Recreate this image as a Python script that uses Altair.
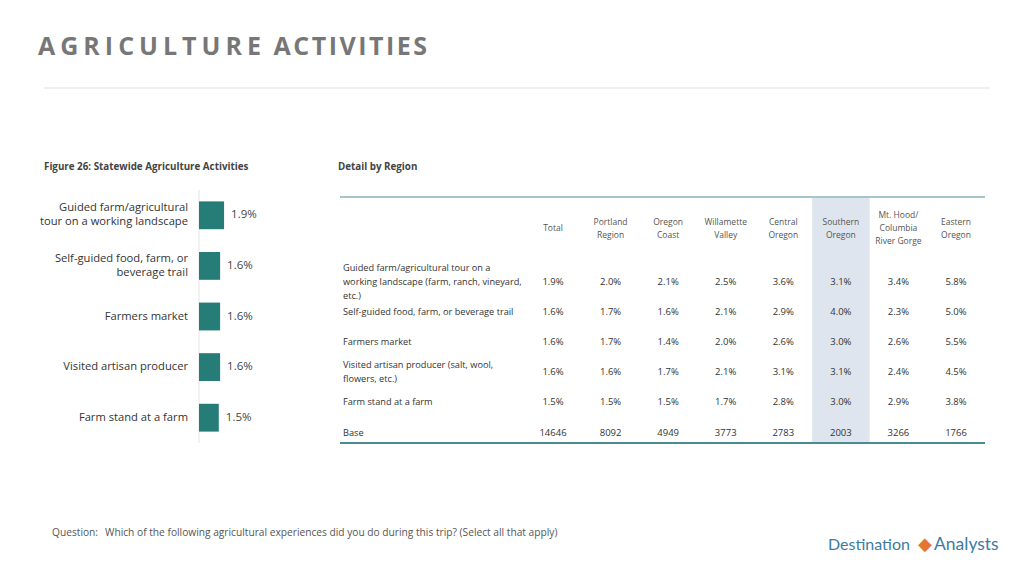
import altair as alt
import pandas as pd

# ---------------- data ----------------
activities = [
    "Guided farm/agricultural\ntour on a working landscape",
    "Self-guided food, farm, or\nbeverage trail",
    "Farmers market",
    "Visited artisan producer",
    "Farm stand at a farm",
]
statewide = [1.9, 1.6, 1.6, 1.6, 1.5]

regions = [
    "Total", "Portland\nRegion", "Oregon\nCoast", "Willamette\nValley",
    "Central\nOregon", "Southern\nOregon", "Mt. Hood/\nColumbia\nRiver Gorge", "Eastern\nOregon",
]
row_labels = [
    "Guided farm/agricultural tour on a\nworking landscape (farm, ranch, vineyard,\netc.)",
    "Self-guided food, farm, or beverage trail",
    "Farmers market",
    "Visited artisan producer (salt, wool,\nflowers, etc.)",
    "Farm stand at a farm",
    "Base",
]
guided = [1.9, 2.0, 2.1, 2.5, 3.6, 3.1, 3.4, 5.8]
self_guided = [1.6, 1.7, 1.6, 2.1, 2.9, 4.0, 2.3, 5.0]
farmers_market = [1.6, 1.7, 1.4, 2.0, 2.6, 3.0, 2.6, 5.5]
artisan = [1.6, 1.6, 1.7, 2.1, 3.1, 3.1, 2.4, 4.5]
farm_stand = [1.5, 1.5, 1.5, 1.7, 2.8, 3.0, 2.9, 3.8]
base = [14646, 8092, 4949, 3773, 2783, 2003, 3266, 1766]
highlight_region = "Southern\nOregon"

# ---------------- tables ----------------
bar_df = pd.DataFrame({"activity": activities, "value": statewide,
                       "label": [f"{v:.1f}%" for v in statewide]})

cells = []
for rl, vals in zip(row_labels[:5], [guided, self_guided, farmers_market, artisan, farm_stand]):
    for reg, v in zip(regions, vals):
        cells.append({"row": rl, "region": reg, "text": f"{v:.1f}%"})
for reg, v in zip(regions, base):
    cells.append({"row": "Base", "region": reg, "text": str(v)})
cell_df = pd.DataFrame(cells)
row_df = pd.DataFrame({"row": row_labels})
reg_df = pd.DataFrame({"region": regions, "hdr": ["h"] * len(regions)})
hl_df = pd.DataFrame({"region": [highlight_region]})

FONT = "Open Sans"
TEAL = "#267d78"
LINE_TEAL = "#4a8c93"

# ---------------- scales ----------------
y_bar = alt.Y("activity:N", sort=None, axis=None,
              scale=alt.Scale(domain=activities, range=[182, 435],
                              paddingInner=0.45, paddingOuter=0.225))
# same band centres as a point scale (for the multi-line category labels)
y_bar_pt = alt.Y("activity:N", sort=None, axis=None,
                 scale=alt.Scale(domain=activities, type="point", range=[207.3, 409.7], padding=0))
x_bar = alt.X("value:Q", axis=None, scale=alt.Scale(domain=[0, 2], range=[191, 217.4]))
x_col = alt.X("region:N", sort=None, axis=None,
              scale=alt.Scale(domain=regions, range=[516.2, 976.8], paddingInner=0, paddingOuter=0))
y_row = alt.Y("row:N", sort=None, axis=None,
              scale=alt.Scale(domain=row_labels, type="point", range=[273.5, 424.5], padding=0))
y_hdr = alt.Y("hdr:N", axis=None, scale=alt.Scale(domain=["h"], type="point", range=[220, 220]))


def center_offset(field, lh):
    # shift a multi-line label up by half of its extra lines, so the block is centred
    return f"-(length(split(datum['{field}'], '\\n')) - 1) * {lh} / 2"


dummy = pd.DataFrame({"a": [0]})


def txt(text, x, y, size, color="#444", weight="normal", align="left", font=FONT, baseline="middle"):
    return alt.Chart(dummy).mark_text(
        text=text, fontSize=size, color=color, fontWeight=weight, align=align,
        baseline=baseline, font=font,
    ).encode(x=alt.value(x), y=alt.value(y))


def hline(x1, x2, y, color, width):
    return alt.Chart(dummy).mark_rule(color=color, strokeWidth=width).encode(
        x=alt.value(x1), x2=alt.value(x2), y=alt.value(y))


# ---------------- layers ----------------
HS = "\u200a"
title_text = (HS * 2).join("AGRICULTURE") + "\u2002" + HS.join("ACTIVITIES")
title = txt(title_text, 30, 47, 25, "#777", "bold", baseline="alphabetic")
title_rule = hline(36, 982, 80, "#dddddd", 1)
fig_title = txt("Figure 26: Statewide Agriculture Activities", 36, 159, 9.8, "#444", "bold")
det_title = txt("Detail by Region", 330, 159, 9.8, "#444", "bold")

axis_rule = alt.Chart(dummy).mark_rule(color="#e3e3e3", strokeWidth=1).encode(
    x=alt.value(191), y=alt.value(182), y2=alt.value(435))

bars = alt.Chart(bar_df).mark_bar(color=TEAL).encode(y=y_bar, x=x_bar, x2=alt.value(191))
bar_labels = alt.Chart(bar_df).mark_text(
    align="left", dx=7, fontSize=11.5, color="#444", font=FONT
).encode(y=y_bar, x=x_bar, text="label:N")
cat_labels = alt.Chart(bar_df).transform_calculate(
    off=center_offset("activity", 14)
).mark_text(
    align="right", fontSize=11.2, color="#333", font=FONT, lineBreak="\n", lineHeight=14
).encode(y=y_bar_pt, yOffset=alt.YOffset("off:Q", scale=None), x=alt.value(180), text="activity:N")

highlight = alt.Chart(hl_df).mark_rect(color="#dfe5ee").encode(
    x=x_col, y=alt.value(190), y2=alt.value(434))
top_rule = hline(332, 977, 189, LINE_TEAL, 1.2)
bottom_rule = hline(332, 977, 435, LINE_TEAL, 2)

headers = alt.Chart(reg_df).transform_calculate(
    off=center_offset("region", 13)
).mark_text(
    fontSize=8.5, color="#555", font=FONT, lineBreak="\n", lineHeight=13, baseline="middle"
).encode(x=x_col, y=y_hdr, yOffset=alt.YOffset("off:Q", scale=None), text="region:N")
row_text = alt.Chart(row_df).transform_calculate(
    off=center_offset("row", 14)
).mark_text(
    align="left", fontSize=9.2, color="#333", font=FONT, lineBreak="\n", lineHeight=14
).encode(x=alt.value(335), y=y_row, yOffset=alt.YOffset("off:Q", scale=None), text="row:N")
values = alt.Chart(cell_df).mark_text(
    fontSize=9.5, color="#333", font=FONT
).encode(x=x_col, y=y_row, text="text:N")

q1 = txt("Question:", 44, 525, 10.2, "#555")
q2 = txt("Which of the following agricultural experiences did you do during this trip? (Select all that apply)",
         97, 525, 10.2, "#555")
logo1 = txt("Destination", 820, 537, 16, "#3b7ca3", font="Lato")
logo_icon = txt("◆", 910, 537, 18, "#e8752e")
logo2 = txt("Analysts", 926, 537, 17.5, "#3b7ca3", font="Lato")

chart = alt.layer(
    title, title_rule, fig_title, det_title,
    axis_rule, bars, bar_labels, cat_labels,
    highlight, top_rule, bottom_rule, headers, row_text, values,
    q1, q2, logo1, logo_icon, logo2,
).resolve_scale(x="independent", y="independent").properties(
    width=1008, height=560, autosize="none", padding=0, background="white"
).configure_view(stroke=None)

chart.save("out.html", embed_options={"renderer": "svg", "actions": False})
